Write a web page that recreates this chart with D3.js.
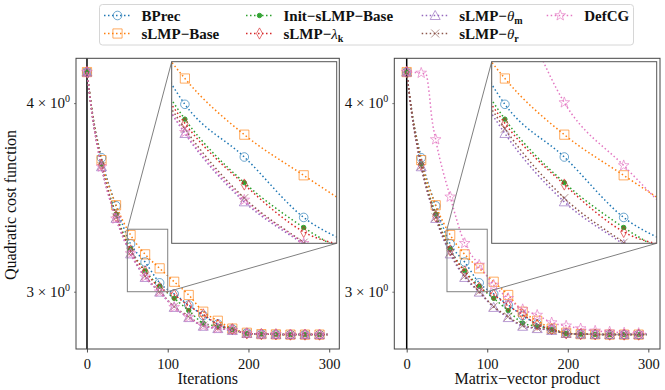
<!DOCTYPE html>
<html>
<head>
<meta charset="utf-8">
<script src="https://cdn.jsdelivr.net/npm/d3@7"></script>
<style>
  body { margin: 0; background: #fff; }
  svg { display: block; }
  text { font-family: "Liberation Serif", "DejaVu Serif", serif; fill: #111; }
</style>
</head>
<body>
<svg id="chart" width="665" height="390"></svg>
<script>
// x positions of the line points (markers sit on the multiples of 18)
const iters = [0, 6, 18, 36, 54, 72, 90, 108, 126, 144, 162, 180, 198, 216, 234, 252, 270, 288, 298];

const bprec     = [4.194, 3.965, 3.680, 3.420, 3.227, 3.139, 3.041, 2.990, 2.940, 2.893, 2.856, 2.834, 2.817, 2.812, 2.811, 2.810, 2.810, 2.810, 2.810];
const slmpBase  = [4.194, 3.962, 3.667, 3.423, 3.271, 3.176, 3.109, 3.046, 2.985, 2.910, 2.870, 2.836, 2.818, 2.812, 2.811, 2.810, 2.810, 2.810, 2.810];
const initBase  = [4.194, 3.955, 3.645, 3.377, 3.202, 3.097, 3.025, 2.970, 2.915, 2.860, 2.846, 2.832, 2.815, 2.812, 2.811, 2.810, 2.810, 2.810, 2.810];
const lambdaK   = [4.194, 3.952, 3.640, 3.366, 3.195, 3.094, 3.018, 2.986, 2.936, 2.898, 2.853, 2.833, 2.815, 2.812, 2.811, 2.810, 2.810, 2.810, 2.810];
const thetaM    = [4.194, 3.945, 3.630, 3.355, 3.178, 3.066, 2.998, 2.929, 2.884, 2.846, 2.836, 2.828, 2.815, 2.812, 2.811, 2.810, 2.810, 2.810, 2.810];
const thetaR    = [4.194, 3.948, 3.634, 3.360, 3.186, 3.072, 3.001, 2.933, 2.888, 2.849, 2.838, 2.829, 2.815, 2.812, 2.811, 2.810, 2.810, 2.810, 2.810];
const defcgIter = [4.194, 3.945, 3.630, 3.353, 3.180, 3.069, 3.000, 2.930, 2.886, 2.848, 2.837, 2.829, 2.815, 2.812, 2.811, 2.810, 2.810, 2.810, 2.810];

// DefCG against matrix-vector products (right panel)
const defcgMatvecX = [0, 18, 24, 28, 31, 36, 54, 72, 90, 108, 126, 144, 162, 180, 198, 216, 234, 252, 270, 288, 298];
const defcgMatvec  = [4.194, 4.188, 4.180, 4.058, 3.916, 3.784, 3.467, 3.230, 3.125, 3.031, 2.970, 2.920, 2.895, 2.862, 2.848, 2.836, 2.826, 2.822, 2.818, 2.816, 2.815];

const xTicks = [0, 100, 200, 300];
const yTicks = [3, 4];

const colors = {
  bprec: "#1f77b4", base: "#ff7f0e", init: "#2ca02c", lam: "#d62728",
  thm: "#9467bd", thr: "#8c564b", defcg: "#e377c2"
};

// marker shapes, centred on 0,0
const star = (() => {
  const pts = [];
  for (let i = 0; i < 10; i++) {
    const r = i % 2 === 0 ? 5.6 : 2.3;
    const a = -Math.PI / 2 + i * Math.PI / 5;
    pts.push([r * Math.cos(a), r * Math.sin(a)]);
  }
  return "M" + pts.map(p => p.join(",")).join("L") + "Z";
})();
const markerPath = {
  circle: "M4.3,0A4.3,4.3 0 1,1 -4.3,0A4.3,4.3 0 1,1 4.3,0Z",
  square: "M-4.6,-4.6H4.6V4.6H-4.6Z",
  dot: "M2.2,0A2.2,2.2 0 1,1 -2.2,0A2.2,2.2 0 1,1 2.2,0Z",
  diamond: "M0,-5.6L3.1,0L0,5.6L-3.1,0Z",
  triangle: "M0,-5L5,4L-5,4Z",
  x: "M-4,-4L4,4M-4,4L4,-4",
  star: star
};

const seriesLeft = [
  { key: "bprec", x: iters, y: bprec, marker: "circle" },
  { key: "base", x: iters, y: slmpBase, marker: "square" },
  { key: "init", x: iters, y: initBase, marker: "dot" },
  { key: "lam", x: iters, y: lambdaK, marker: "diamond" },
  { key: "thm", x: iters, y: thetaM, marker: "triangle" },
  { key: "thr", x: iters, y: thetaR, marker: "x" },
  { key: "defcg", x: iters, y: defcgIter, marker: "star" }
];
const seriesRight = seriesLeft.map(s => s.key === "defcg"
  ? { key: "defcg", x: defcgMatvecX, y: defcgMatvec, marker: "star" } : s);

const svg = d3.select("#chart");

const drawMarker = (g, kind, color, x, y) => {
  g.append("path")
    .attr("d", markerPath[kind])
    .attr("transform", "translate(" + x + "," + y + ")")
    .attr("fill", kind === "dot" ? color : "none")
    .attr("stroke", color)
    .attr("stroke-width", 1)
    .attr("opacity", kind === "dot" ? 0.95 : 0.65);
};

const drawSeries = (g, list, xs, ys, clipId) => {
  const layer = g.append("g").attr("clip-path", "url(#" + clipId + ")");
  const line = d3.line().x(d => xs(d[0])).y(d => ys(d[1])).curve(d3.curveMonotoneX);
  list.forEach(s => {
    const pts = s.x.map((v, i) => [v, s.y[i]]);
    layer.append("path")
      .attr("d", line(pts))
      .attr("fill", "none")
      .attr("stroke", colors[s.key])
      .attr("stroke-width", 1.5)
      .attr("stroke-dasharray", "1.5,2.5");
    pts.filter(p => p[0] % 18 === 0 && p[0] <= 288).forEach(p => {
      drawMarker(layer, s.marker, colors[s.key], xs(p[0]), ys(p[1]));
    });
  });
};

const panel = cfg => {
  const g = svg.append("g");
  const top = 58.3, bottom = 349;
  const xs = d3.scaleLinear().domain(cfg.xDomain).range([cfg.left, cfg.right]);
  const ys = d3.scaleLog().domain([2.749, 4.283]).range([bottom, top]);

  const defs = svg.append("defs");
  defs.append("clipPath").attr("id", cfg.id + "-clip").append("rect")
    .attr("x", cfg.left).attr("y", top)
    .attr("width", cfg.right - cfg.left).attr("height", bottom - top);

  // axvline at 0
  g.append("line")
    .attr("x1", xs(0)).attr("x2", xs(0)).attr("y1", top).attr("y2", bottom)
    .attr("stroke", "#000").attr("stroke-width", 1.5);

  drawSeries(g, cfg.series, xs, ys, cfg.id + "-clip");

  // x axis
  const xAxis = d3.axisBottom(xs).tickValues(xTicks).tickSize(3.5).tickPadding(3);
  const xg = g.append("g").attr("transform", "translate(0," + bottom + ")").call(xAxis);
  xg.select(".domain").remove();
  xg.selectAll("line").attr("stroke", "#222").attr("stroke-width", 0.8);
  xg.selectAll("text").attr("font-size", 14.5).attr("font-family", "Liberation Serif").attr("fill", "#111").attr("dy", "0.9em");

  // y axis (log, labelled minor ticks)
  const yAxis = d3.axisLeft(ys).tickValues(yTicks).tickSize(2).tickFormat("");
  const yg = g.append("g").attr("transform", "translate(" + cfg.left + ",0)").call(yAxis);
  yg.select(".domain").remove();
  yg.selectAll("line").attr("stroke", "#222").attr("stroke-width", 0.6);
  yTicks.forEach(v => {
    const t = g.append("text")
      .attr("x", cfg.left - 6).attr("y", ys(v) + 5)
      .attr("text-anchor", "end").attr("font-size", 15);
    t.append("tspan").text(v + " \u00d7 10");
    t.append("tspan").attr("font-size", 10).attr("dy", -6).text("0");
  });

  // frame
  g.append("rect")
    .attr("x", cfg.left).attr("y", top)
    .attr("width", cfg.right - cfg.left).attr("height", bottom - top)
    .attr("fill", "none").attr("stroke", "#444").attr("stroke-width", 1);

  g.append("text")
    .attr("x", (cfg.left + cfg.right) / 2).attr("y", 384)
    .attr("text-anchor", "middle").attr("font-size", 16)
    .text(cfg.xlabel);

  if (cfg.ylabel) {
    g.append("text")
      .attr("transform", "translate(16," + 205 + ") rotate(-90)")
      .attr("text-anchor", "middle").attr("font-size", 16)
      .text(cfg.ylabel);
  }

  // inset: zoom on x in [50,100], y in [3.0,3.3]
  const ins = cfg.inset;
  const ixs = d3.scaleLinear().domain([50, 100]).range([ins.left, ins.right]);
  const iys = d3.scaleLog().domain([3.0, 3.3]).range([ins.bottom, ins.top]);
  defs.append("clipPath").attr("id", cfg.id + "-iclip").append("rect")
    .attr("x", ins.left).attr("y", ins.top)
    .attr("width", ins.right - ins.left).attr("height", ins.bottom - ins.top);

  const src = { x0: xs(50), x1: xs(100), y0: ys(3.3), y1: ys(3.0) };
  g.append("rect")
    .attr("x", src.x0).attr("y", src.y0)
    .attr("width", src.x1 - src.x0).attr("height", src.y1 - src.y0)
    .attr("fill", "none").attr("stroke", "#808080").attr("stroke-width", 1);
  g.append("line").attr("x1", src.x0).attr("y1", src.y0).attr("x2", ins.left).attr("y2", ins.top)
    .attr("stroke", "#808080").attr("stroke-width", 1);
  g.append("line").attr("x1", src.x1).attr("y1", src.y1).attr("x2", ins.right).attr("y2", ins.bottom)
    .attr("stroke", "#808080").attr("stroke-width", 1);

  const ig = g.append("g");
  ig.append("rect")
    .attr("x", ins.left).attr("y", ins.top)
    .attr("width", ins.right - ins.left).attr("height", ins.bottom - ins.top)
    .attr("fill", "#fff");
  drawSeries(ig, cfg.series, ixs, iys, cfg.id + "-iclip");
  ig.append("rect")
    .attr("x", ins.left).attr("y", ins.top)
    .attr("width", ins.right - ins.left).attr("height", ins.bottom - ins.top)
    .attr("fill", "none").attr("stroke", "#555").attr("stroke-width", 1);
};

panel({
  id: "left", left: 76, right: 339.3, xDomain: [-13.6, 312.5],
  series: seriesLeft, xlabel: "Iterations", ylabel: "Quadratic cost function",
  inset: { left: 171.7, right: 336.7, top: 61.7, bottom: 243.3 }
});
panel({
  id: "right", left: 394.3, right: 660, xDomain: [-15.4, 314.5],
  series: seriesRight, xlabel: "Matrix\u2212vector product",
  inset: { left: 491.7, right: 656.7, top: 61.7, bottom: 243.3 }
});

// legend
const legendItems = [
  { key: "bprec", marker: "circle", parts: [["BPrec"]] },
  { key: "base", marker: "square", parts: [["sLMP\u2212Base"]] },
  { key: "init", marker: "dot", parts: [["Init\u2212sLMP\u2212Base"]] },
  { key: "lam", marker: "diamond", parts: [["sLMP\u2212"], ["\u03bb", "it"], ["k", "sub"]] },
  { key: "thm", marker: "triangle", parts: [["sLMP\u2212"], ["\u03b8", "it"], ["m", "sub"]] },
  { key: "thr", marker: "x", parts: [["sLMP\u2212"], ["\u03b8", "it"], ["r", "sub"]] },
  { key: "defcg", marker: "star", parts: [["DefCG"]] }
];
const colX = [104, 246, 421.7, 546.7];
const rowY = [15.5, 33.5];

const lg = svg.append("g");
lg.append("rect")
  .attr("x", 99.5).attr("y", 4.5).attr("width", 534).attr("height", 40.5)
  .attr("rx", 3).attr("fill", "#fff").attr("fill-opacity", 0.8)
  .attr("stroke", "#d6d6d6").attr("stroke-width", 1);

legendItems.forEach((it, i) => {
  const cx = colX[Math.floor(i / 2)];
  const cy = rowY[i % 2];
  const c = colors[it.key];
  lg.append("line")
    .attr("x1", cx).attr("x2", cx + 27).attr("y1", cy).attr("y2", cy)
    .attr("stroke", c).attr("stroke-width", 1.5).attr("stroke-dasharray", "1.5,2.5");
  drawMarker(lg, it.marker, c, cx + 13.5, cy);
  const t = lg.append("text")
    .attr("x", cx + 37.5).attr("y", cy + 5)
    .attr("font-size", 15).attr("font-weight", "bold");
  it.parts.forEach(p => {
    const sp = t.append("tspan").text(p[0]);
    if (p[1] === "it") sp.attr("font-style", "italic").attr("font-weight", "normal");
    if (p[1] === "sub") sp.attr("font-size", 10).attr("dy", 3);
  });
});
</script>
</body>
</html>
